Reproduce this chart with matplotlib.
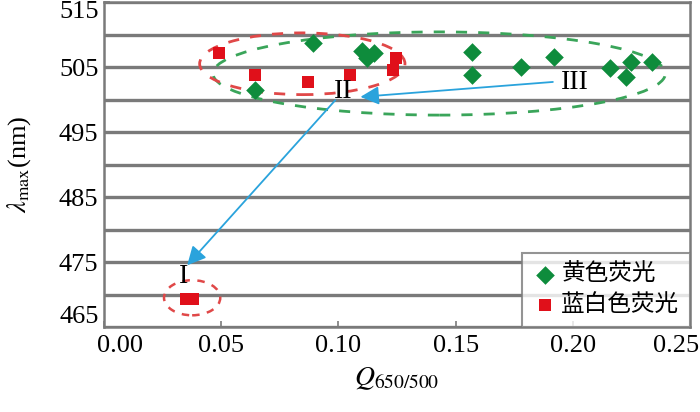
import matplotlib
matplotlib.use("Agg")
import matplotlib.pyplot as plt
from matplotlib.patches import Ellipse
from matplotlib.transforms import ScaledTranslation
import numpy as np

plt.rcParams['font.family'] = ['Liberation Serif', 'Noto Sans CJK SC', 'DejaVu Sans']
plt.rcParams['mathtext.fontset'] = 'stix'

# data
yellow_x = [0.0645, 0.089, 0.110, 0.115, 0.112, 0.157, 0.157, 0.178, 0.192, 0.216, 0.2226, 0.2248, 0.234]
yellow_y = [501.5, 508.7, 507.4, 507.2, 506.4, 507.3, 503.8, 505.0, 506.5, 504.8, 503.5, 505.8, 505.8]
bluewhite_x = [0.049, 0.0645, 0.087, 0.105, 0.1245, 0.1235, 0.035, 0.038]
bluewhite_y = [507.2, 503.8, 502.7, 503.8, 506.4, 504.5, 469.3, 469.3]
series_labels = ['黄色荧光', '蓝白色荧光']
xticks = [0.00, 0.05, 0.10, 0.15, 0.20, 0.25]
yticks = [465, 475, 485, 495, 505, 515]
group_labels = ['I', 'II', 'III']
group_pos = [(0.034, 472.7), (0.102, 501.2), (0.201, 502.6)]

fig = plt.figure(figsize=(7.0, 4.12), dpi=100)
ax = fig.add_axes([104/700, 1-327/412, (690-104)/700, (327-2)/412])

ax.set_xlim(0, 0.25)
ax.set_ylim(465, 515)
ax.set_xticks(xticks)
ax.set_xticklabels([f"{v:.2f}" for v in xticks])
ax.set_yticks(yticks)
ax.set_yticks(np.arange(470, 515, 10), minor=True)
ax.yaxis.grid(True, which='both', color='#7a7a7a', lw=2.4)
ax.set_axisbelow(True)
ax.tick_params(axis='both', direction='in', labelsize=19, color='#7a7a7a', length=4, width=1.2)
ax.tick_params(axis='y', which='minor', direction='in', length=4, color='#7a7a7a')
ax.tick_params(axis='y', pad=4)
ax.tick_params(axis='x', pad=6)
for s in ax.spines.values():
    s.set_color('#7a7a7a')
    s.set_linewidth(1.8)

# ellipses
ax.add_patch(Ellipse((0.143, 504.0), 0.193, 12.8, fill=False, ec='#3aa55a', lw=2, ls=(0, (4, 4)), zorder=3))
ax.add_patch(Ellipse((0.0846, 505.5), 0.0876, 9.5, fill=False, ec='#e04848', lw=2, ls=(0, (4, 4)), zorder=3))
ax.add_patch(Ellipse((0.0376, 469.5), 0.024, 5.4, fill=False, ec='#e04848', lw=1.8, ls=(0, (3, 3)), zorder=3))

ax.scatter(yellow_x, yellow_y, marker='D', s=90, c='#0e8c3c', label=series_labels[0], zorder=4, linewidths=0)
ax.scatter(bluewhite_x, bluewhite_y, marker='s', s=85, c='#e0101a', label=series_labels[1], zorder=4, linewidths=0)

# arrows
arrow_kw = dict(arrowstyle='-|>', color='#2aa3dc', lw=1.3, mutation_scale=28, shrinkA=0, shrinkB=0)
ax.annotate('', xy=(0.1094, 500.4), xytext=(0.1915, 502.7), arrowprops=arrow_kw, zorder=5)
ax.annotate('', xy=(0.0355, 474.5), xytext=(0.0987, 499.9), arrowprops=arrow_kw, zorder=5)

for lab, (px, py) in zip(group_labels, group_pos):
    ax.text(px, py, lab, fontsize=20, ha='center', va='center', family='Liberation Serif', zorder=6)

ax.set_xlabel(r'$Q_{650/500}$', fontsize=20, labelpad=6)
ax.set_ylabel(r'$\lambda_{\rm max}$(nm)', fontsize=19, labelpad=19)

# end tick labels kept inside the figure, as in the reference
fig.canvas.draw()
xl = ax.get_xticklabels()
xl[0].set_ha('left')
xl[0].set_transform(xl[0].get_transform() + ScaledTranslation(-7/100, 0, fig.dpi_scale_trans))
xl[-1].set_ha('right')
xl[-1].set_transform(xl[-1].get_transform() + ScaledTranslation(9/100, 0, fig.dpi_scale_trans))
yl = ax.get_yticklabels()
yl[0].set_va('bottom')
yl[0].set_transform(yl[0].get_transform() + ScaledTranslation(0, -1/100, fig.dpi_scale_trans))
yl[-1].set_va('top')
yl[-1].set_transform(yl[-1].get_transform() + ScaledTranslation(0, 1/100, fig.dpi_scale_trans))

leg = ax.legend(loc='lower right', bbox_to_anchor=(1.0, 0.0), borderaxespad=0, frameon=True,
                fancybox=False, edgecolor='#7a7a7a', prop={'family': ['Noto Sans CJK SC'], 'size': 17},
                handletextpad=0.2, handlelength=1.0, borderpad=0.45, labelspacing=0.3)
leg.get_frame().set_linewidth(1.5)

fig.savefig('out.png', dpi=100)
